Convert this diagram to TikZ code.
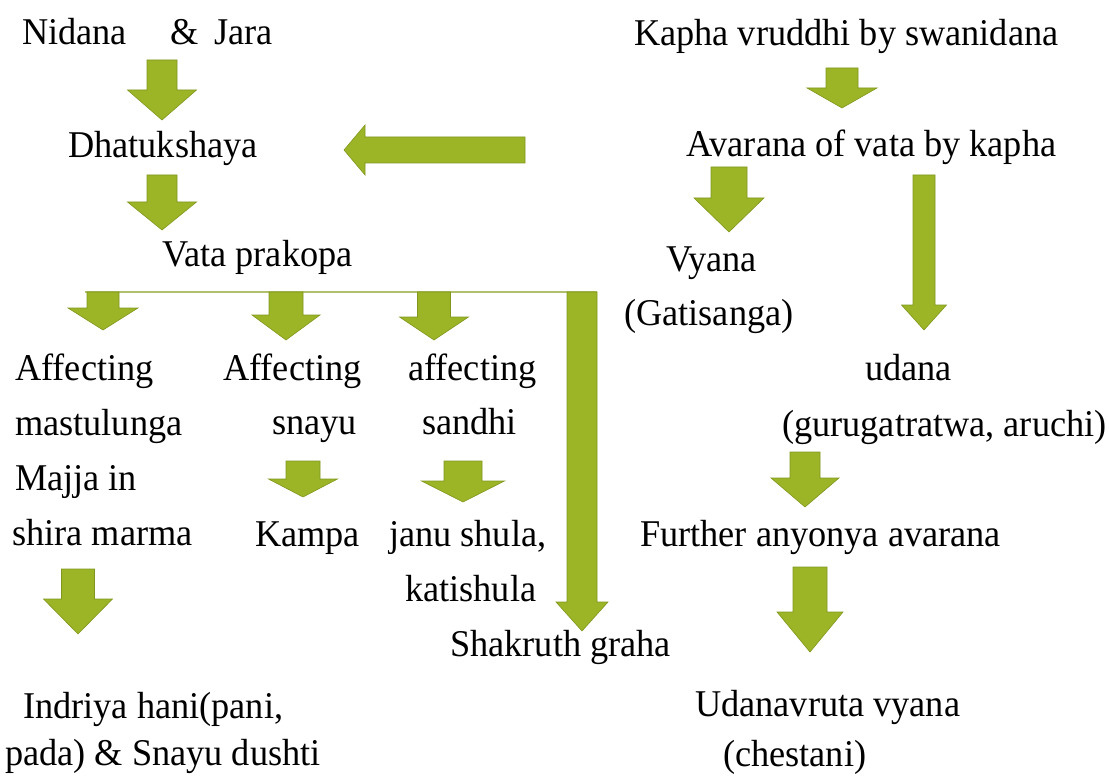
\documentclass[tikz,border=0pt]{standalone}
\usepackage{fontspec}
\setmainfont{Liberation Serif}[FakeStretch=0.96]
\usetikzlibrary{calc}
\definecolor{leaf}{RGB}{155,181,38}
\definecolor{leafedge}{RGB}{128,150,30}
\definecolor{stem}{RGB}{176,192,108}
\def\dnarrow#1#2#3#4#5#6{\filldraw[leafarrow] (#1-#4,#2) -- (#1+#4,#2) -- (#1+#4,#3-#6) -- (#1+#5,#3-#6) -- (#1,#3) -- (#1-#5,#3-#6) -- (#1-#4,#3-#6) -- cycle;}
\tikzset{
  txt/.style={anchor=base west, inner sep=0pt, font=\fontsize{37.8}{45}\selectfont},
  leafarrow/.style={fill=leaf, draw=leafedge, line width=0.6pt, line join=miter}
}

\begin{document}
\begin{tikzpicture}[x=1pt,y=-1pt]
\useasboundingbox (0,0) rectangle (1109,778);
% left column
\node[txt] (nidana) at (22,45) {Nidana\hspace{44pt}\&\hspace{15pt}Jara};
\node[txt] (dhatu) at (68,158) {Dhatukshaya};
\node[txt] (vata) at (162,267) {Vata prakopa};
\node[txt] (aff1) at (15,380) {Affecting};
\node[txt] (mastu) at (15,435) {mastulunga};
\node[txt] (majja) at (15,490) {Majja in};
\node[txt] (shira) at (12,545) {shira marma};
\node[txt] (indriya) at (23,718) {Indriya hani(pani,};
\node[txt] (pada) at (5,765) {pada) \& Snayu dushti};
\node[txt] (aff2) at (223,380) {Affecting};
\node[txt] (snayu) at (272,434) {snayu};
\node[txt] (kampa) at (255,546) {Kampa};
\node[txt] (aff3) at (408,380) {affecting};
\node[txt] (sandhi) at (422,434) {sandhi};
\node[txt] (janu) at (389,546) {janu shula,};
\node[txt] (kati) at (405,601) {katishula};
\node[txt] (shakruth) at (450,656) {Shakruth graha};
% right column
\node[txt] (kapha) at (634,46) {Kapha vruddhi by swanidana};
\node[txt] (avarana) at (686,157) {Avarana of vata by kapha};
\node[txt] (vyana) at (666,272) {Vyana};
\node[txt] (gati) at (624,326) {(Gatisanga)};
\node[txt] (udana) at (865,380) {udana};
\node[txt] (guru) at (782,436) {(gurugatratwa, aruchi)};
\node[txt] (further) at (640,546) {Further anyonya avarana};
\node[txt] (udanav) at (695,716) {Udanavruta vyana};
\node[txt] (chest) at (723,766) {(chestani)};
% branch line under Vata prakopa
\coordinate (branchL) at (85,292);
\coordinate (branchR) at (597,292);
\draw[stem, line width=1.6pt] (branchL) -- (branchR);
% block arrows
\dnarrow{162}{60}{120}{15}{34.5}{30}
\dnarrow{162}{175}{230}{15}{34.5}{28}
\dnarrow{103}{292}{330}{16}{35}{22}
\dnarrow{286}{292}{340}{17}{34}{25}
\dnarrow{434}{292}{340}{16.5}{34.5}{23}
\dnarrow{78}{569}{634}{16.5}{34.5}{35}
\dnarrow{303}{461}{497}{17}{34.5}{18}
\dnarrow{463}{461}{502}{19}{41.5}{21}
\dnarrow{582}{292}{631}{15}{26}{29}
\dnarrow{842}{68}{108}{16}{35}{20}
\dnarrow{729}{167}{232}{18}{35}{34}
\dnarrow{924}{175}{330}{11}{22.5}{25}
\dnarrow{805}{452}{507}{15}{34}{29}
\dnarrow{810}{567}{652}{17}{33}{40}
\filldraw[leafarrow] (344,150) -- (365,125) -- (365,137) -- (525,137) -- (525,163) -- (365,163) -- (365,175) -- cycle;
\end{tikzpicture}
\end{document}
